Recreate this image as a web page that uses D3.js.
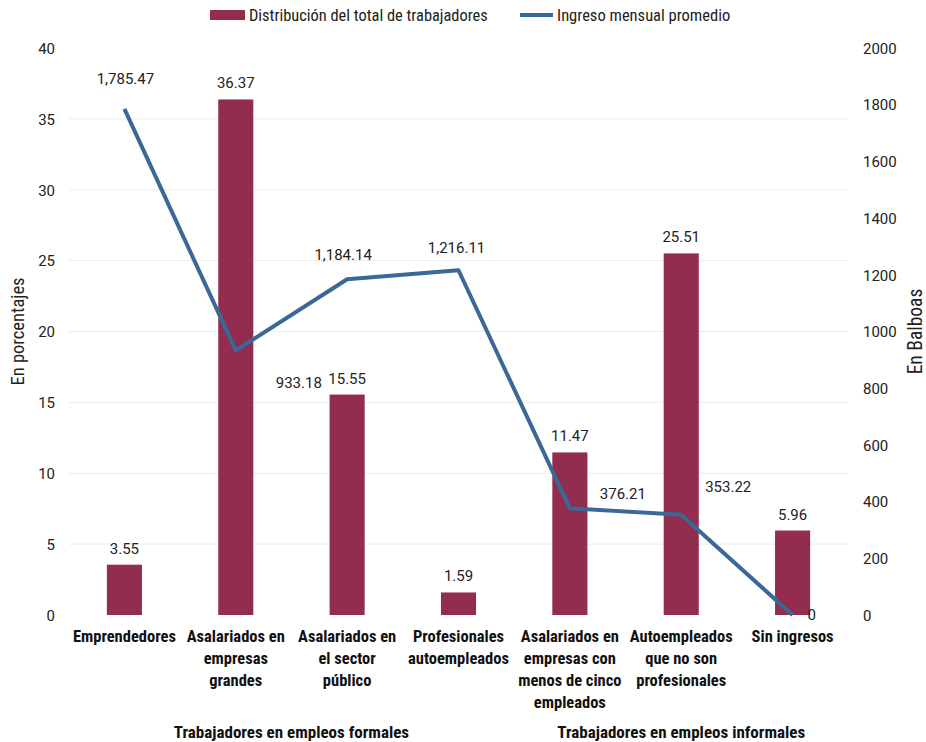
<!DOCTYPE html>
<html>
<head>
<meta charset="utf-8">
<script src="https://cdn.jsdelivr.net/npm/d3@7"></script>
<style>
  html, body { margin: 0; padding: 0; background: #fff; }
  svg { display: block; }
  .cond { font-family: "Roboto Condensed", "Liberation Sans Narrow", "Roboto", sans-serif; }
  .num { font-family: "Roboto", "Noto Sans", sans-serif; }
</style>
</head>
<body>
<svg id="chart" width="926" height="742"></svg>
<script>
// Categories (multi-line labels) and grouping
const categories = [
  ["Emprendedores"],
  ["Asalariados en", "empresas", "grandes"],
  ["Asalariados en", "el sector", "público"],
  ["Profesionales", "autoempleados"],
  ["Asalariados en", "empresas con", "menos de cinco", "empleados"],
  ["Autoempleados", "que no son", "profesionales"],
  ["Sin ingresos"]
];
const groups = [
  { name: "Trabajadores en empleos formales", from: 0, to: 3 },
  { name: "Trabajadores en empleos informales", from: 4, to: 6 }
];
// Series
const distribution = [3.55, 36.37, 15.55, 1.59, 11.47, 25.51, 5.96];   // %
const income = [1785.47, 933.18, 1184.14, 1216.11, 376.21, 353.22, 0]; // Balboas
const leftTicks = [0, 5, 10, 15, 20, 25, 30, 35, 40];
const rightTicks = [0, 200, 400, 600, 800, 1000, 1200, 1400, 1600, 1800, 2000];
const seriesNames = ["Distribución del total de trabajadores", "Ingreso mensual promedio"];

// Placement of the income labels relative to each point [dx, dy]
const incomeLabelOffset = [[1, -30], [63, 32], [-4, -25], [-2, -22], [53, -15], [47, -28], [19, 0]];

const barColor = "#922d50";
const lineColor = "#3a6897";
const margin = { left: 69, right: 848, top: 48, bottom: 615 };

const svg = d3.select("#chart");
const n = categories.length;
const x = d3.scaleBand().domain(d3.range(n)).range([margin.left, margin.right]).paddingInner(0.685).paddingOuter(0.34);
const xc = i => x(i) + x.bandwidth() / 2;
const yL = d3.scaleLinear().domain([0, 40]).range([margin.bottom, margin.top]);
const yR = d3.scaleLinear().domain([0, 2000]).range([margin.bottom, margin.top]);

// Gridlines
svg.append("g").selectAll("line")
  .data(leftTicks.filter(t => t > 0 && t < 40))
  .join("line")
  .attr("x1", margin.left).attr("x2", margin.right)
  .attr("y1", d => yL(d)).attr("y2", d => yL(d))
  .attr("stroke", "#ececec").attr("stroke-width", 1);

// Left axis
const axL = d3.axisLeft(yL).tickValues(leftTicks).tickSize(0).tickPadding(0).tickFormat(d3.format("d"));
const gL = svg.append("g").attr("transform", `translate(${margin.left - 14},0)`).call(axL);
gL.select(".domain").remove();
gL.selectAll("text").attr("class", "num").attr("font-size", 15).attr("fill", "#222").attr("dy", "0.35em");

// Right axis
const axR = d3.axisRight(yR).tickValues(rightTicks).tickSize(0).tickPadding(0).tickFormat(d3.format("d"));
const gR = svg.append("g").attr("transform", `translate(${margin.right + 15},0)`).call(axR);
gR.select(".domain").remove();
gR.selectAll("text").attr("class", "num").attr("font-size", 15).attr("fill", "#222").attr("dy", "0.35em");

// Axis titles
svg.append("text").attr("class", "cond")
  .attr("transform", `translate(24,${(margin.top + margin.bottom) / 2}) rotate(-90)`)
  .attr("text-anchor", "middle").attr("font-size", 18.5).attr("fill", "#222")
  .text("En porcentajes");
svg.append("text").attr("class", "cond")
  .attr("transform", `translate(922,${(margin.top + margin.bottom) / 2}) rotate(-90)`)
  .attr("text-anchor", "middle").attr("font-size", 19.5).attr("fill", "#222")
  .text("En Balboas");

// Bars
svg.append("g").selectAll("rect")
  .data(distribution)
  .join("rect")
  .attr("x", (d, i) => x(i)).attr("width", x.bandwidth())
  .attr("y", d => yL(d)).attr("height", d => yL(0) - yL(d))
  .attr("fill", barColor);

// Bar labels
svg.append("g").selectAll("text")
  .data(distribution)
  .join("text")
  .attr("class", "num")
  .attr("x", (d, i) => xc(i)).attr("y", d => yL(d) - 11)
  .attr("text-anchor", "middle").attr("font-size", 15).attr("fill", "#222")
  .text(d => d3.format(".2f")(d));

// Income line
const line = d3.line().x((d, i) => xc(i)).y(d => yR(d));
svg.append("path").datum(income)
  .attr("d", line).attr("fill", "none")
  .attr("stroke", lineColor).attr("stroke-width", 4).attr("stroke-linejoin", "round");

// Income labels
const fmtIncome = d => d === 0 ? "0" : d3.format(",.2f")(d);
svg.append("g").selectAll("text")
  .data(income)
  .join("text")
  .attr("class", "num")
  .attr("x", (d, i) => xc(i) + incomeLabelOffset[i][0])
  .attr("y", (d, i) => yR(d) + incomeLabelOffset[i][1])
  .attr("dy", "0.35em")
  .attr("text-anchor", "middle").attr("font-size", 15).attr("fill", "#222")
  .text(fmtIncome);

// Category labels
const catG = svg.append("g");
categories.forEach((lines, i) => {
  const t = catG.append("text").attr("class", "cond")
    .attr("x", xc(i)).attr("y", 642)
    .attr("text-anchor", "middle").attr("font-size", 16.5).attr("font-weight", "bold").attr("fill", "#111");
  lines.forEach((ln, k) => {
    t.append("tspan").attr("x", xc(i)).attr("y", 642 + k * 22).text(ln);
  });
});

// Group labels
svg.append("g").selectAll("text")
  .data(groups)
  .join("text")
  .attr("class", "cond")
  .attr("x", g => (xc(g.from) + xc(g.to)) / 2).attr("y", 738)
  .attr("text-anchor", "middle").attr("font-size", 17).attr("font-weight", "bold").attr("fill", "#111")
  .text(g => g.name);

// Legend
const leg = svg.append("g");
leg.append("rect").attr("x", 210).attr("y", 10).attr("width", 35).attr("height", 10).attr("fill", barColor);
leg.append("text").attr("class", "cond").attr("x", 249).attr("y", 20.5)
  .attr("font-size", 16.4).attr("fill", "#222").text(seriesNames[0]);
leg.append("line").attr("x1", 520).attr("x2", 553).attr("y1", 15).attr("y2", 15)
  .attr("stroke", lineColor).attr("stroke-width", 4);
leg.append("text").attr("class", "cond").attr("x", 557).attr("y", 20.5)
  .attr("font-size", 16.5).attr("fill", "#222").text(seriesNames[1]);
</script>
</body>
</html>
